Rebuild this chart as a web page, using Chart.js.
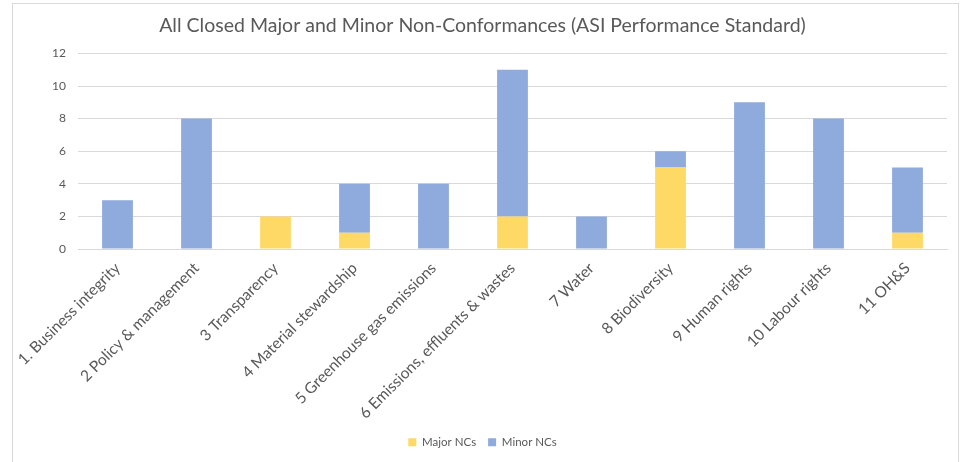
<!DOCTYPE html>
<html>
<head>
<meta charset="utf-8">
<script src="https://cdn.jsdelivr.net/npm/chart.js@4"></script>
<style>
    html, body { margin: 0; padding: 0; background: #fff; }
    #box {
        position: absolute;
        left: 12px; top: 3px;
        width: 947px; height: 470px;
        border: 1px solid #d9d9d9;
        box-sizing: border-box;
    }
    #wrap { position: absolute; left: 0; top: 0; width: 947px; height: 458px; }
</style>
</head>
<body>
<div id="box">
    <div id="wrap"><canvas id="chart"></canvas></div>
</div>
<script>
const categories = [
    '1. Business integrity',
    '2 Policy & management',
    '3 Transparency',
    '4 Material stewardship',
    '5 Greenhouse gas emissions',
    '6 Emissions, effluents & wastes',
    '7 Water',
    '8 Biodiversity',
    '9 Human rights',
    '10 Labour rights',
    '11 OH&S'
];
const majorNCs = [0, 0, 2, 1, 0, 2, 0, 5, 0, 0, 1];
const minorNCs = [3, 8, 0, 3, 4, 9, 2, 1, 9, 8, 4];
const yTicks = [0, 2, 4, 6, 8, 10, 12];

const textColor = '#595959';
const fontFamily = 'Lato, "Open Sans", sans-serif';

document.addEventListener("DOMContentLoaded", () => {
    new Chart(document.getElementById('chart'), {
        type: 'bar',
        data: {
            labels: categories,
            datasets: [{
                label: 'Major NCs',
                data: majorNCs,
                backgroundColor: '#ffd966',
                categoryPercentage: 1.0,
                barPercentage: 0.39
            }, {
                label: 'Minor NCs',
                data: minorNCs,
                backgroundColor: '#8faadc',
                categoryPercentage: 1.0,
                barPercentage: 0.39
            }]
        },
        options: {
            responsive: true,
            maintainAspectRatio: false,
            animation: false,
            layout: { padding: { left: 5, right: 13, top: 4, bottom: 4 } },
            plugins: {
                title: {
                    display: true,
                    text: 'All Closed Major and Minor Non-Conformances (ASI Performance Standard)',
                    color: textColor,
                    font: { family: fontFamily, size: 19.5, weight: 'normal' },
                    padding: { top: 6, bottom: 16 }
                },
                legend: {
                    position: 'bottom',
                    labels: {
                        color: textColor,
                        font: { family: fontFamily, size: 11.5 },
                        boxWidth: 8,
                        boxHeight: 8,
                        padding: 12
                    }
                },
                tooltip: { enabled: false }
            },
            scales: {
                x: {
                    stacked: true,
                    grid: { display: false },
                    border: { color: '#d9d9d9' },
                    ticks: {
                        color: textColor,
                        font: { family: fontFamily, size: 15.5 },
                        minRotation: 45,
                        maxRotation: 45,
                        autoSkip: false,
                        padding: 2
                    }
                },
                y: {
                    stacked: true,
                    min: 0,
                    max: 12,
                    afterBuildTicks: (axis) => { axis.ticks = yTicks.map(v => ({ value: v })); },
                    afterFit: (axis) => { axis.width = 60; },
                    grid: { color: '#d9d9d9', drawTicks: false },
                    border: { display: false },
                    ticks: {
                        color: textColor,
                        font: { family: fontFamily, size: 12 },
                        padding: 12
                    }
                }
            }
        }
    });
});
</script>
</body>
</html>
